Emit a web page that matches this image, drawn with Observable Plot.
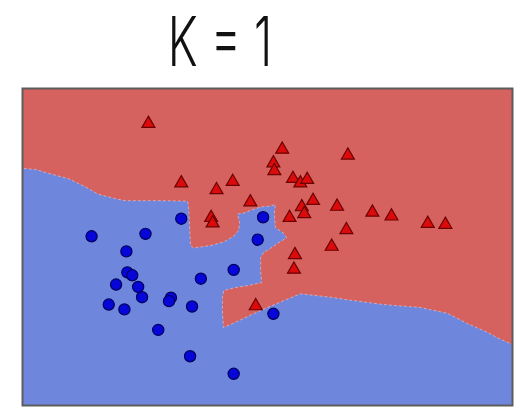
<!DOCTYPE html>
<html>
<head>
<meta charset="utf-8">
<script src="https://cdn.jsdelivr.net/npm/d3@7"></script>
<script src="https://cdn.jsdelivr.net/npm/@observablehq/plot@0.6"></script>
<style>
  html, body { margin: 0; padding: 0; background: #fff; }
  #wrap { width: 524px; }
  #title { position: relative; height: 84px; width: 524px; }
  #title span {
    position: absolute; left: 220px; top: 0;
    display: inline-block;
    font-family: "Inter", "DejaVu Sans", sans-serif; font-weight: 300;
    font-size: 68px; line-height: normal; color: #111;
    transform: translateX(-50%) scaleX(0.68);
    white-space: nowrap;
  }
</style>
</head>
<body>
<div id="wrap">
  <div id="title"><span>K = 1</span></div>
  <div id="chart"></div>
</div>
<script>
// Training samples, class "circle" (blue)
const blueX = [1.41, 2.51, 2.12, 3.24, 4.91, 4.80, 2.14, 2.24, 1.91, 2.36, 2.44,
               1.76, 2.08, 3.03, 2.99, 3.46, 3.64, 4.31, 2.77, 3.42, 4.31, 5.12];
const blueY = [3.47, 3.52, 3.16, 3.83, 3.86, 3.40, 2.73, 2.67, 2.48, 2.43, 2.22,
               2.07, 1.97, 2.21, 2.14, 2.03, 2.60, 2.78, 1.55, 1.01, 0.65, 1.88];

// Training samples, class "triangle" (red)
const redX = [2.57, 5.30, 6.64, 5.12, 5.14, 3.24, 3.96, 4.29, 5.52, 5.67, 5.81,
              4.65, 5.93, 5.70, 5.75, 5.45, 6.42, 7.14, 7.53, 8.27, 8.63, 3.85,
              3.88, 6.61, 6.31, 5.56, 5.54, 4.76];
const redY = [5.78, 5.25, 5.13, 4.97, 4.81, 4.56, 4.42, 4.59, 4.65, 4.56, 4.63,
              4.17, 4.20, 4.07, 3.93, 3.85, 4.08, 3.96, 3.88, 3.73, 3.71, 3.85,
              3.74, 3.60, 3.26, 3.09, 2.79, 2.04];

// Outline of the region the 1-nearest-neighbour rule assigns to the red class
const regionX = [0, 10, 10, 9.69, 9.49, 9.08, 8.67, 8.12, 7.37, 6.69, 6.29, 5.67,
                 5.33, 5.00, 4.65, 4.29, 4.10, 4.08, 4.08, 4.11, 4.35, 4.61, 4.88,
                 4.86, 4.86, 4.92, 5.00, 5.20, 5.39, 5.33, 5.16, 5.14, 5.16, 5.06,
                 4.86, 4.65, 4.51, 4.39, 4.43, 4.41, 4.31, 4.10, 3.84, 3.49, 3.43,
                 3.41, 3.39, 3.37, 2.82, 2.10, 1.90, 1.55, 1.29, 0.94, 0.53, 0.27, 0];
const regionY = [6.5, 6.5, 1.25, 1.39, 1.50, 1.68, 1.89, 2.01, 2.07, 2.16, 2.22, 2.29,
                 2.15, 2.01, 1.85, 1.68, 1.60, 1.95, 2.21, 2.36, 2.42, 2.46, 2.52,
                 2.77, 3.03, 3.14, 3.18, 3.32, 3.44, 3.53, 3.65, 3.94, 4.12, 4.09,
                 4.07, 4.00, 3.94, 3.93, 3.75, 3.59, 3.47, 3.35, 3.28, 3.23, 3.28,
                 3.65, 4.06, 4.19, 4.20, 4.20, 4.24, 4.33, 4.48, 4.65, 4.76, 4.84, 4.86];

const blue = blueX.map((x, i) => ({x, y: blueY[i]}));
const red = redX.map((x, i) => ({x, y: redY[i]}));
const region = regionX.map((x, i) => ({x, y: regionY[i]}));

const chart = Plot.plot({
  width: 524,
  height: 324,
  marginLeft: 22,
  marginRight: 12,
  marginTop: 4,
  marginBottom: 3,
  x: {domain: [0, 10], axis: null},
  y: {domain: [0, 6.5], axis: null},
  marks: [
    Plot.frame({fill: "#6e87dc", stroke: null}),
    Plot.line(region, {
      x: "x", y: "y", curve: "linear-closed",
      fill: "#d5625f", stroke: "#f6d6d2", strokeOpacity: 0.55,
      strokeWidth: 1, strokeDasharray: "2 3"
    }),
    Plot.dot(blue, {x: "x", y: "y", r: 5.6, fill: "#0606d8", stroke: "#00005c", strokeWidth: 1.2}),
    Plot.dot(red, {x: "x", y: "y", symbol: "triangle", r: 4.8, fill: "#dc0b0b", stroke: "#6a0000", strokeWidth: 1.2}),
    Plot.frame({stroke: "#5c5c5c", strokeWidth: 2})
  ]
});

document.getElementById("chart").appendChild(chart);
</script>
</body>
</html>
